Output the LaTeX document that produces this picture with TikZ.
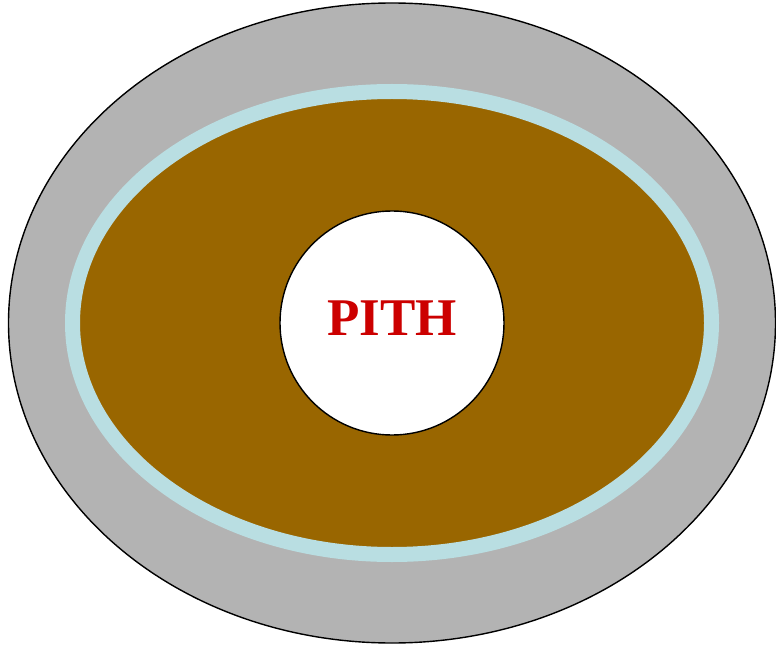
\documentclass[tikz,border=0pt]{standalone}
\usepackage{fontspec}
\setmainfont{Liberation Serif}
\usepackage{tikz}
\definecolor{barkgray}{RGB}{179,179,179}
\definecolor{cambium}{RGB}{185,222,226}
\definecolor{wood}{RGB}{153,102,0}
\definecolor{pithred}{RGB}{204,0,0}
\tikzset{
  bark/.style={draw=black, fill=barkgray, line width=1.4pt},
  xylem/.style={draw=cambium, fill=wood, line width=15pt},
  pithc/.style={draw=black, fill=white, line width=1.4pt},
  lbl/.style={font=\fontsize{53}{62}\selectfont\bfseries, text=pithred, inner sep=0pt},
}
\begin{document}
\begin{tikzpicture}[x=1pt, y=1pt]
  \useasboundingbox (0,0) rectangle (776,649);
  \coordinate (c) at (392,326);
  \draw[bark] (c) ellipse [x radius=383.5, y radius=320];
  \draw[xylem] (c) ellipse [x radius=319.5, y radius=231.5];
  \draw[pithc] (c) circle [radius=112];
  \node[lbl, anchor=base] (pith) at (392,314) {PITH};
\end{tikzpicture}
\end{document}
